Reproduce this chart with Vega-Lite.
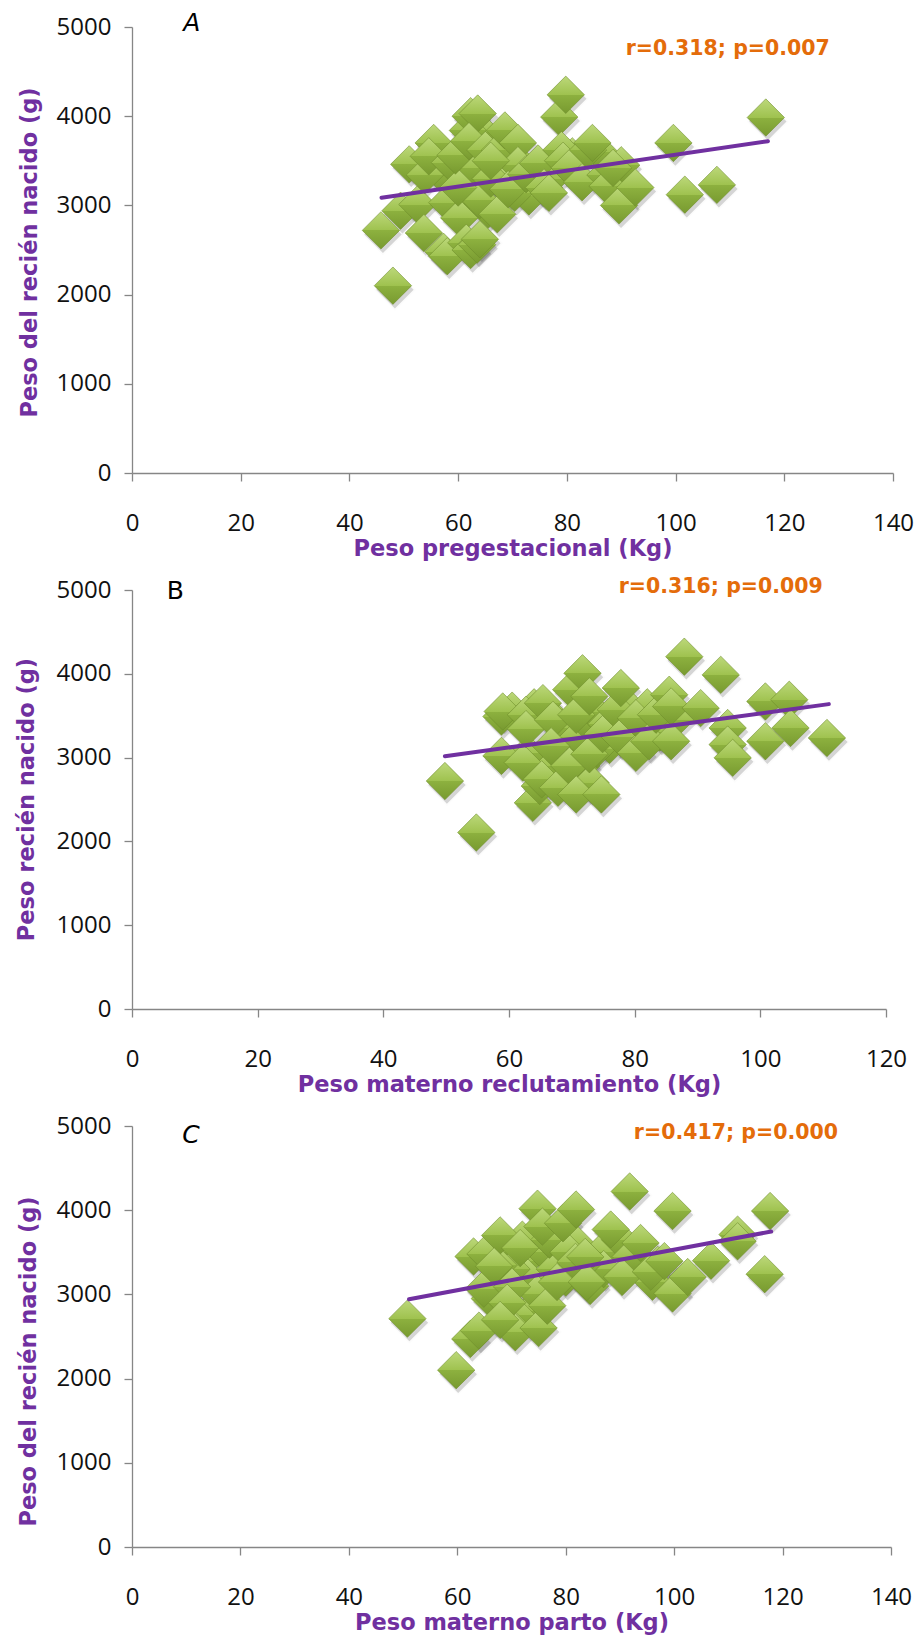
{
  "$schema": "https://vega.github.io/schema/vega-lite/v6.json",
  "padding": {"left": 14, "top": 10, "right": 5, "bottom": 5},
  "bounds": "flush",
  "spacing": 117,
  "config": {
    "view": {"stroke": null},
    "axis": {
      "grid": false,
      "domainColor": "#868686",
      "domainWidth": 1.3,
      "tickColor": "#868686",
      "tickWidth": 1.3,
      "tickSize": 8,
      "labelFont": "Open Sans",
      "labelFontSize": 24,
      "labelColor": "#111111",
      "labelFlush": false,
      "labelOverlap": false,
      "titleFont": "DejaVu Sans",
      "titleFontSize": 22.5,
      "titleFontWeight": "bold",
      "titleColor": "#7030A0"
    }
  },
  "datasets": {
    "a": [
      {"x":56,"y":3600},{"x":57,"y":3350},{"x":60.5,"y":3050},{"x":65.5,"y":2950},{"x":68,"y":3250},{"x":73,"y":3100},{"x":77,"y":3300},{"x":81,"y":3550},{"x":86,"y":3600},{"x":90,"y":3450},{"x":70,"y":3550},{"x":64.5,"y":3820},
      {"x":45.8,"y":2720},{"x":48,"y":2100},{"x":49.4,"y":2940},{"x":52.5,"y":3010},{"x":51,"y":3460},{"x":53.9,"y":3340},{"x":55.5,"y":3700},{"x":54.6,"y":3550},{"x":53.7,"y":2690},{"x":57.3,"y":2480},{"x":58,"y":2430},{"x":58.5,"y":3480},{"x":58,"y":3030},{"x":60.2,"y":2860},{"x":61.5,"y":2580},{"x":62.3,"y":2500},{"x":63.5,"y":2560},{"x":64,"y":2620},{"x":61.8,"y":3840},{"x":62.3,"y":4000},{"x":63.6,"y":4030},{"x":63.2,"y":3420},{"x":64,"y":3060},{"x":60,"y":3200},{"x":59.5,"y":3560},{"x":62,"y":3720},{"x":65,"y":3620},{"x":66,"y":3300},{"x":67.2,"y":2900},{"x":67.7,"y":3620},{"x":68.6,"y":3840},{"x":71,"y":3700},{"x":70.4,"y":3140},{"x":71,"y":3450},{"x":69.2,"y":3180},{"x":66,"y":3500},{"x":72.5,"y":3350},{"x":74.7,"y":3470},{"x":75.8,"y":3200},{"x":76.7,"y":3140},{"x":78.6,"y":3990},{"x":79.8,"y":4240},{"x":79,"y":3620},{"x":79.3,"y":3500},{"x":80.5,"y":3420},{"x":82.8,"y":3260},{"x":83.9,"y":3620},{"x":84.7,"y":3700},{"x":87.1,"y":3340},{"x":87.5,"y":3215},{"x":88.5,"y":3420},{"x":89.6,"y":3000},{"x":92.6,"y":3200},{"x":99.6,"y":3700},{"x":101.7,"y":3120},{"x":107.6,"y":3230},{"x":116.6,"y":3985}
    ],
    "b": [
      {"x":60.5,"y":3560},{"x":64,"y":3600},{"x":66,"y":3550},{"x":68.5,"y":3350},{"x":69,"y":3100},{"x":71,"y":3250},{"x":72,"y":3450},{"x":73.5,"y":3550},{"x":75.5,"y":3400},{"x":76,"y":3150},{"x":78.5,"y":3350},{"x":79,"y":3600},{"x":81,"y":3380},{"x":82,"y":3600},{"x":84,"y":3300},{"x":86.5,"y":3450},{"x":71.5,"y":2900},{"x":73,"y":2700},{"x":68,"y":2950},{"x":66,"y":2900},{"x":63,"y":3050},{"x":74,"y":3100},
      {"x":49.8,"y":2720},{"x":54.8,"y":2106},{"x":58.8,"y":3490},{"x":59,"y":3550},{"x":58.8,"y":3020},{"x":62.2,"y":2940},{"x":62.7,"y":3510},{"x":62.7,"y":3340},{"x":63.8,"y":2460},{"x":64.9,"y":2660},{"x":65.2,"y":2740},{"x":65.4,"y":3650},{"x":67,"y":3450},{"x":66.7,"y":3135},{"x":67.8,"y":2640},{"x":69.6,"y":2900},{"x":69.9,"y":3810},{"x":71.7,"y":4006},{"x":70.7,"y":3510},{"x":70.7,"y":2560},{"x":72.8,"y":3040},{"x":72.8,"y":3730},{"x":74.7,"y":2560},{"x":74.9,"y":3280},{"x":77,"y":3570},{"x":77.8,"y":3830},{"x":77.7,"y":3240},{"x":80.2,"y":3056},{"x":80.2,"y":3470},{"x":82.3,"y":3195},{"x":83.4,"y":3512},{"x":85.5,"y":3750},{"x":85.8,"y":3195},{"x":85.8,"y":3610},{"x":87.9,"y":4204},{"x":90.5,"y":3590},{"x":93.7,"y":3987},{"x":94.8,"y":3353},{"x":94.8,"y":3155},{"x":95.6,"y":2997},{"x":100.8,"y":3670},{"x":100.8,"y":3195},{"x":104.6,"y":3690},{"x":104.8,"y":3353},{"x":110.6,"y":3234}
    ],
    "c": [
      {"x":72.5,"y":3400},{"x":73,"y":3200},{"x":76,"y":3500},{"x":78,"y":3300},{"x":80,"y":3200},{"x":82,"y":3600},{"x":85,"y":3250},{"x":86.5,"y":3500},{"x":90,"y":3650},{"x":92,"y":3450},{"x":97,"y":3350},{"x":96,"y":3150},{"x":68,"y":3500},{"x":70,"y":3300},{"x":72,"y":3650},{"x":77,"y":3650},{"x":80.5,"y":3500},{"x":84.5,"y":3100},{"x":87,"y":3300},{"x":63,"y":3450},{"x":66,"y":2950},{"x":73.5,"y":2800},{"x":71,"y":2750},{"x":83,"y":3350},
      {"x":50.8,"y":2712},{"x":59.8,"y":2100},{"x":62.4,"y":2470},{"x":64,"y":2570},{"x":64.9,"y":3067},{"x":65.2,"y":3480},{"x":67.6,"y":3345},{"x":67.9,"y":3700},{"x":69.8,"y":2630},{"x":70.7,"y":2550},{"x":71.6,"y":3550},{"x":74.8,"y":4018},{"x":75.7,"y":3805},{"x":74.7,"y":3010},{"x":75,"y":2600},{"x":76.6,"y":2866},{"x":78.4,"y":3147},{"x":79.5,"y":3845},{"x":81.9,"y":4008},{"x":81.8,"y":3385},{"x":83.6,"y":3445},{"x":83.9,"y":3147},{"x":88.3,"y":3770},{"x":90.4,"y":3206},{"x":91.8,"y":4222},{"x":93.8,"y":3610},{"x":95.7,"y":3270},{"x":99.7,"y":3010},{"x":99.7,"y":3990},{"x":102.5,"y":3206},{"x":106.8,"y":3400},{"x":111.7,"y":3710},{"x":111.7,"y":3630},{"x":116.7,"y":3240},{"x":117.7,"y":3990},{"x":66.8,"y":3333},{"x":70.1,"y":3090},{"x":69.2,"y":2900},{"x":67.9,"y":2697},{"x":98.2,"y":3395}
    ],
    "la": [{"x":45.9,"y":3085},{"x":117,"y":3720}],
    "lb": [{"x":49.8,"y":3017},{"x":110.9,"y":3638}],
    "lc": [{"x":51.1,"y":2942},{"x":117.9,"y":3747}],
    "na": [{"x":109.6,"y":4753,"t":"r=0.318; p=0.007"}],
    "nb": [{"x":93.7,"y":5036,"t":"r=0.316; p=0.009"}],
    "nc": [{"x":111.4,"y":4917,"t":"r=0.417; p=0.000"}],
    "ka": [{"x":11,"y":5045,"t":"A"}],
    "kb": [{"x":6.9,"y":4988,"t":"B"}],
    "kc": [{"x":10.9,"y":4898,"t":"C"}]
  },
  "vconcat": [
    {
      "width": 761,
      "height": 446,
      "encoding": {
        "x": {"field": "x", "type": "quantitative", "scale": {"domain": [0, 140], "nice": false, "zero": false}, "axis": {"values": [0,20,40,60,80,100,120,140], "title": "Peso pregestacional (Kg)", "labelPadding": 30, "titlePadding": 2}},
        "y": {"field": "y", "type": "quantitative", "scale": {"domain": [0, 5000], "nice": false}, "axis": {"values": [0,1000,2000,3000,4000,5000], "format": "d", "labelPadding": 13, "title": "Peso del recién nacido (g)", "titleBaseline": "middle", "titleAlign": "center", "titleX": -103, "titleY": 225}}
      },
      "layer": [
        {"data": {"name": "a"}, "mark": {"type": "point", "shape": "diamond", "filled": true, "size": 1400, "color": "#000000", "opacity": 0.16, "stroke": "#000000", "strokeWidth": 3, "strokeOpacity": 0.07, "xOffset": 2, "yOffset": 4}},
        {"data": {"name": "a"}, "mark": {"type": "point", "shape": "diamond", "filled": true, "size": 1400, "opacity": 1, "fill": {"gradient": "linear", "x1": 0, "y1": 0, "x2": 0, "y2": 1, "stops": [{"offset": 0, "color": "#bcd87a"}, {"offset": 0.5, "color": "#9fc24f"}, {"offset": 0.5, "color": "#8db13f"}, {"offset": 1, "color": "#789a30"}]}, "stroke": "#6b8a2a", "strokeWidth": 0.8, "strokeOpacity": 0.7}},
        {"data": {"name": "la"}, "mark": {"type": "line", "color": "#7030A0", "strokeWidth": 4, "strokeCap": "round"}},
        {"data": {"name": "na"}, "mark": {"type": "text", "font": "DejaVu Sans", "fontWeight": "bold", "fontSize": 20.5, "color": "#E46C0A", "align": "center", "baseline": "middle"}, "encoding": {"text": {"field": "t"}}},
        {"data": {"name": "ka"}, "mark": {"type": "text", "font": "DejaVu Sans", "fontStyle": "italic", "fontSize": 25, "color": "#000000", "align": "center", "baseline": "middle"}, "encoding": {"text": {"field": "t"}}}
      ]
    },
    {
      "width": 754,
      "height": 419,
      "encoding": {
        "x": {"field": "x", "type": "quantitative", "scale": {"domain": [0, 120], "nice": false, "zero": false}, "axis": {"values": [0,20,40,60,80,100,120], "title": "Peso materno reclutamiento (Kg)", "labelPadding": 30, "titlePadding": 2}},
        "y": {"field": "y", "type": "quantitative", "scale": {"domain": [0, 5000], "nice": false}, "axis": {"values": [0,1000,2000,3000,4000,5000], "format": "d", "labelPadding": 13, "title": "Peso recién nacido (g)", "titleBaseline": "middle", "titleAlign": "center", "titleX": -106, "titleY": 209}}
      },
      "layer": [
        {"data": {"name": "b"}, "mark": {"type": "point", "shape": "diamond", "filled": true, "size": 1400, "color": "#000000", "opacity": 0.16, "stroke": "#000000", "strokeWidth": 3, "strokeOpacity": 0.07, "xOffset": 2, "yOffset": 4}},
        {"data": {"name": "b"}, "mark": {"type": "point", "shape": "diamond", "filled": true, "size": 1400, "opacity": 1, "fill": {"gradient": "linear", "x1": 0, "y1": 0, "x2": 0, "y2": 1, "stops": [{"offset": 0, "color": "#bcd87a"}, {"offset": 0.5, "color": "#9fc24f"}, {"offset": 0.5, "color": "#8db13f"}, {"offset": 1, "color": "#789a30"}]}, "stroke": "#6b8a2a", "strokeWidth": 0.8, "strokeOpacity": 0.7}},
        {"data": {"name": "lb"}, "mark": {"type": "line", "color": "#7030A0", "strokeWidth": 4, "strokeCap": "round"}},
        {"data": {"name": "nb"}, "mark": {"type": "text", "font": "DejaVu Sans", "fontWeight": "bold", "fontSize": 20.5, "color": "#E46C0A", "align": "center", "baseline": "middle"}, "encoding": {"text": {"field": "t"}}},
        {"data": {"name": "kb"}, "mark": {"type": "text", "font": "DejaVu Sans", "fontSize": 25, "color": "#000000", "align": "center", "baseline": "middle"}, "encoding": {"text": {"field": "t"}}}
      ]
    },
    {
      "width": 759,
      "height": 421,
      "encoding": {
        "x": {"field": "x", "type": "quantitative", "scale": {"domain": [0, 140], "nice": false, "zero": false}, "axis": {"values": [0,20,40,60,80,100,120,140], "title": "Peso materno parto (Kg)", "labelPadding": 30, "titlePadding": 2}},
        "y": {"field": "y", "type": "quantitative", "scale": {"domain": [0, 5000], "nice": false}, "axis": {"values": [0,1000,2000,3000,4000,5000], "format": "d", "labelPadding": 13, "title": "Peso del recién nacido (g)", "titleBaseline": "middle", "titleAlign": "center", "titleX": -104, "titleY": 235}}
      },
      "layer": [
        {"data": {"name": "c"}, "mark": {"type": "point", "shape": "diamond", "filled": true, "size": 1400, "color": "#000000", "opacity": 0.16, "stroke": "#000000", "strokeWidth": 3, "strokeOpacity": 0.07, "xOffset": 2, "yOffset": 4}},
        {"data": {"name": "c"}, "mark": {"type": "point", "shape": "diamond", "filled": true, "size": 1400, "opacity": 1, "fill": {"gradient": "linear", "x1": 0, "y1": 0, "x2": 0, "y2": 1, "stops": [{"offset": 0, "color": "#bcd87a"}, {"offset": 0.5, "color": "#9fc24f"}, {"offset": 0.5, "color": "#8db13f"}, {"offset": 1, "color": "#789a30"}]}, "stroke": "#6b8a2a", "strokeWidth": 0.8, "strokeOpacity": 0.7}},
        {"data": {"name": "lc"}, "mark": {"type": "line", "color": "#7030A0", "strokeWidth": 4, "strokeCap": "round"}},
        {"data": {"name": "nc"}, "mark": {"type": "text", "font": "DejaVu Sans", "fontWeight": "bold", "fontSize": 20.5, "color": "#E46C0A", "align": "center", "baseline": "middle"}, "encoding": {"text": {"field": "t"}}},
        {"data": {"name": "kc"}, "mark": {"type": "text", "font": "DejaVu Sans", "fontStyle": "italic", "fontSize": 25, "color": "#000000", "align": "center", "baseline": "middle"}, "encoding": {"text": {"field": "t"}}}
      ]
    }
  ]
}
